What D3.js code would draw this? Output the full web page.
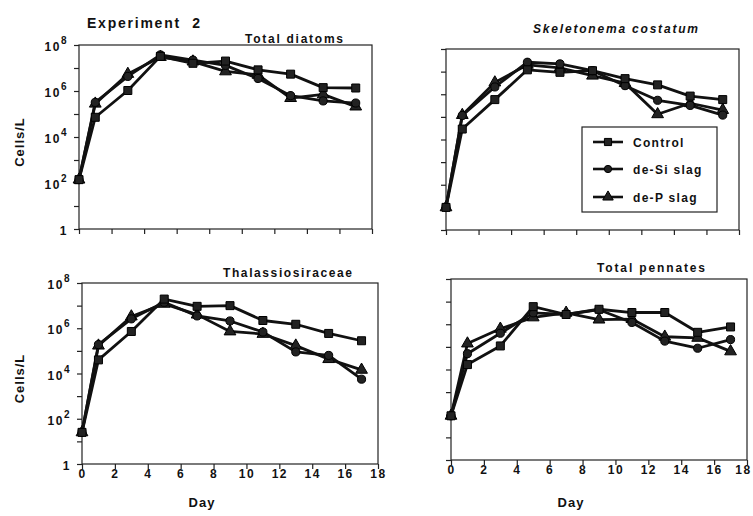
<!DOCTYPE html>
<html>
<head>
<meta charset="utf-8">
<script src="https://cdn.jsdelivr.net/npm/d3@7"></script>
<style>
  html, body { margin: 0; padding: 0; background: #fff; }
  svg { display: block; }
  text { font-family: "Liberation Sans", Arial, Helvetica, sans-serif; font-weight: bold; fill: #111; }
</style>
</head>
<body>
<svg id="chart" width="753" height="516"></svg>
<script>
// ---------------- data ----------------
const days = [0, 1, 3, 5, 7, 9, 11, 13, 15, 17];
const xTickValues = [0, 2, 4, 6, 8, 10, 12, 14, 16, 18];
const yTickValues = [1, 1e1, 1e2, 1e3, 1e4, 1e5, 1e6, 1e7, 1e8];
const yLabelValues = [1, 1e2, 1e4, 1e6, 1e8];
const seriesNames = ["Control", "de-Si slag", "de-P slag"];
const panelTitles = ["Total diatoms", "Skeletonema costatum", "Thalassiosiraceae", "Total pennates"];
const figureTitle = "Experiment  2";
const yAxisTitle = "Cells/L";
const xAxisTitle = "Day";

// Total diatoms
const diatomsControl = [140, 7.2e4, 1.05e6, 3.2e7, 1.6e7, 2.0e7, 8.3e6, 5.4e6, 1.4e6, 1.35e6];
const diatomsDeSi    = [140, 3.2e5, 4.3e6, 3.7e7, 2.2e7, 1.3e7, 3.5e6, 6.3e5, 3.7e5, 3.0e5];
const diatomsDeP     = [140, 2.8e5, 5.5e6, 3.0e7, 1.9e7, 7.1e6, 5.0e6, 4.9e5, 7.1e5, 2.1e5];
// Skeletonema costatum
const skelControl = [10, 2.9e4, 5.8e5, 1.2e7, 9.3e6, 1.1e7, 4.9e6, 2.6e6, 8.3e5, 5.8e5];
const skelDeSi    = [10, 1.15e5, 2.1e6, 2.6e7, 2.2e7, 1.1e7, 2.4e6, 5.4e5, 3.2e5, 1.2e5];
const skelDeP     = [10, 1.2e5, 3.3e6, 2.0e7, 1.45e7, 6.6e6, 3.1e6, 1.3e5, 4.0e5, 2.0e5];
// Thalassiosiraceae
const thalControl = [25, 4.0e4, 7.2e5, 1.95e7, 9.3e6, 1.0e7, 2.2e6, 1.5e6, 5.9e5, 2.8e5];
const thalDeSi    = [25, 1.9e5, 2.6e6, 1.4e7, 3.5e6, 2.1e6, 6.8e5, 9.0e4, 6.3e4, 5.6e3];
const thalDeP     = [25, 1.7e5, 3.3e6, 1.2e7, 4.0e6, 7.2e5, 5.6e5, 1.7e5, 4.3e4, 1.45e4];
// Total pennates
const pennControl = [90, 1.65e4, 1.1e5, 6.0e6, 2.7e6, 4.6e6, 3.3e6, 3.3e6, 4.4e5, 7.6e5];
const pennDeSi    = [90, 5.0e4, 4.0e5, 3.2e6, 2.7e6, 4.4e6, 1.2e6, 1.8e5, 8.7e4, 2.1e5];
const pennDeP     = [90, 1.4e5, 6.3e5, 2.0e6, 3.2e6, 1.6e6, 1.7e6, 2.8e5, 2.5e5, 6.3e4];

const panelSeries = [
  [diatomsControl, diatomsDeSi, diatomsDeP],
  [skelControl, skelDeSi, skelDeP],
  [thalControl, thalDeSi, thalDeP],
  [pennControl, pennDeSi, pennDeP]
];

// ---------------- layout ----------------
const layout = [
  { x0: 79,  x1: 372, y0: 45,  y1: 229, yLabels: true,  xLabels: false, title: { x: 245, y: 43, w: 98, italic: false } },
  { x0: 446, x1: 739, y0: 49,  y1: 230, yLabels: false, xLabels: false, title: { x: 533, y: 33, w: 165, italic: true } },
  { x0: 82,  x1: 378, y0: 283, y1: 464, yLabels: true,  xLabels: true,  title: { x: 223, y: 277, w: 129, italic: false } },
  { x0: 451, x1: 747, y0: 279, y1: 460, yLabels: false, xLabels: true,  title: { x: 597, y: 272, w: 108, italic: false } }
];
const symbols = [d3.symbolSquare, d3.symbolCircle, d3.symbolTriangle];
const symbolSizes = [64, 52, 60];
const drawOrder = [2, 1, 0];

const svg = d3.select("#chart");

svg.append("text").attr("x", 87).attr("y", 28)
  .attr("font-size", 14).attr("textLength", 113).attr("lengthAdjust", "spacing")
  .style("white-space", "pre").text(figureTitle);

layout.forEach((L, pi) => {
  const x = d3.scaleLinear().domain([0, 18]).range([L.x0, L.x1]);
  const y = d3.scaleLog().domain([1, 1e8]).range([L.y1, L.y0]);
  const g = svg.append("g");

  // frame
  g.append("rect").attr("x", L.x0).attr("y", L.y0)
    .attr("width", L.x1 - L.x0).attr("height", L.y1 - L.y0)
    .attr("fill", "none").attr("stroke", "#222").attr("stroke-width", 1.2);

  // axes
  const ya = g.append("g").attr("transform", `translate(${L.x0},0)`)
    .call(d3.axisLeft(y).tickValues(yTickValues).tickSize(5).tickFormat(""));
  const xa = g.append("g").attr("transform", `translate(0,${L.y1})`)
    .call(d3.axisBottom(x).tickValues(xTickValues).tickSize(5).tickSizeOuter(0)
      .tickFormat(L.xLabels ? d3.format("d") : ""));
  [ya, xa].forEach(a => {
    a.select(".domain").remove();
    a.selectAll("line").attr("stroke", "#222").attr("stroke-width", 1.2);
  });
  xa.selectAll("text").attr("font-size", 12).attr("fill", "#111")
    .attr("font-family", "Liberation Sans, Arial, sans-serif").attr("font-weight", "bold")
    .attr("letter-spacing", 1.5).attr("y", 5)
    .attr("dx", d => (d === 18 && L.x1 > 740) ? -4 : 0);

  if (L.yLabels) {
    yLabelValues.forEach(v => {
      const t = g.append("text").attr("text-anchor", "end")
        .attr("x", L.x0 - 11).attr("y", y(v) + 6).attr("font-size", 12)
        .attr("letter-spacing", 1.5);
      const e = Math.round(Math.log10(v));
      if (e === 0) { t.text("1"); }
      else {
        t.append("tspan").text("10");
        t.append("tspan").attr("dy", -7).attr("font-size", 10).text(String(e));
      }
    });
    g.append("text").attr("text-anchor", "middle")
      .attr("transform", `translate(24,${(L.y0 + L.y1) / 2 + 5}) rotate(-90)`)
      .attr("font-size", 13).attr("letter-spacing", 1).text(yAxisTitle);
  }
  if (L.xLabels) {
    g.append("text").attr("text-anchor", "middle")
      .attr("x", (L.x0 + L.x1) / 2 - 28).attr("y", 507)
      .attr("font-size", 13).attr("letter-spacing", 1).text(xAxisTitle);
  }

  // title
  g.append("text").attr("x", L.title.x).attr("y", L.title.y)
    .attr("font-size", 12).attr("font-style", L.title.italic ? "italic" : "normal")
    .attr("textLength", L.title.w).attr("lengthAdjust", "spacing")
    .text(panelTitles[pi]);

  // series
  const line = d3.line().x((d, i) => x(days[i])).y(d => y(d));
  drawOrder.forEach(si => {
    const vals = panelSeries[pi][si];
    g.append("path").datum(vals).attr("d", line)
      .attr("fill", "none").attr("stroke", "#111").attr("stroke-width", 2.8)
      .attr("stroke-linejoin", "round");
    g.selectAll(null).data(vals).enter().append("path")
      .attr("transform", (d, i) => `translate(${x(days[i])},${y(d)})`)
      .attr("d", d3.symbol().type(symbols[si]).size(symbolSizes[si]))
      .attr("fill", "#222").attr("stroke", "#000").attr("stroke-width", 1);
  });
});

// legend
const lg = svg.append("g");
lg.append("rect").attr("x", 582).attr("y", 127).attr("width", 135).attr("height", 85)
  .attr("fill", "#fff").attr("stroke", "#222").attr("stroke-width", 1.2);
const legendRows = [142, 169, 197];
seriesNames.forEach((name, si) => {
  const cy = legendRows[si];
  lg.append("line").attr("x1", 593).attr("x2", 623).attr("y1", cy).attr("y2", cy)
    .attr("stroke", "#111").attr("stroke-width", 2.6);
  lg.append("path").attr("transform", `translate(608,${cy})`)
    .attr("d", d3.symbol().type(symbols[si]).size(symbolSizes[si] * 0.8))
    .attr("fill", "#222").attr("stroke", "#000");
  lg.append("text").attr("x", 633).attr("y", cy + 5).attr("font-size", 12)
    .attr("letter-spacing", 1.3).text(name);
});
</script>
</body>
</html>
